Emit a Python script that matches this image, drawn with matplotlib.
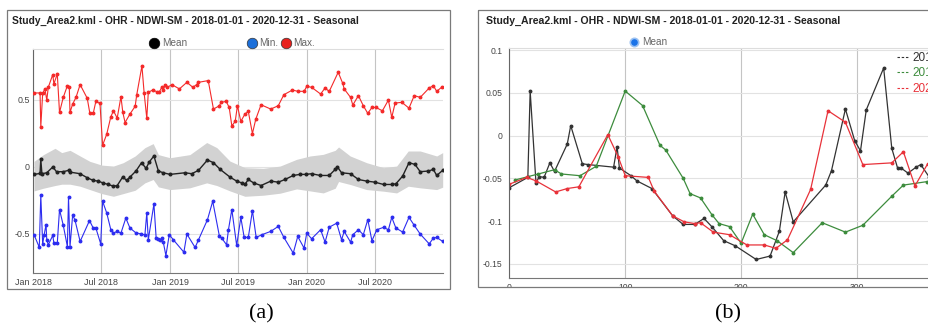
import numpy as np
import matplotlib
matplotlib.use('Agg')
import matplotlib.pyplot as plt
import matplotlib.dates as mdates
from matplotlib.patches import Rectangle
from matplotlib.lines import Line2D

plt.rcParams['font.family'] = ['Liberation Sans', 'DejaVu Sans']

title = 'Study_Area2.kml - OHR - NDWI-SM - 2018-01-01 - 2020-12-31 - Seasonal'

# ---- panel (a): days since 2018-01-01 ----
mean_days = [2, 18, 20, 23, 36, 52, 62, 80, 94, 98, 125, 144, 160, 174, 185, 200, 214, 224, 239, 249,
             258, 274, 289, 301, 310, 322, 334, 347, 365, 405, 423, 441, 465, 481, 499, 525, 543, 556, 565, 574,
             588, 608, 634, 654, 672, 694, 712, 728, 743, 766, 790, 806, 812, 823, 847, 868, 890, 912, 935, 957,
             968, 986, 1003, 1019, 1033, 1055, 1068, 1077, 1093]
mean_vals = [-0.057, -0.05, 0.055, -0.052, -0.045, -0.002, -0.037, -0.037, -0.027, -0.04,
             -0.052, -0.082, -0.102, -0.107, -0.12, -0.132, -0.145, -0.14, -0.075, -0.102,
             -0.077, -0.032, 0.03, -0.012, 0.037, 0.08, -0.032, -0.045, -0.057, -0.045,
             -0.052, -0.027, 0.05, 0.03, -0.02, -0.077, -0.107, -0.12, -0.132, -0.095,
             -0.12, -0.14, -0.107, -0.115, -0.095, -0.065, -0.057, -0.057, -0.052, -0.065,
             -0.065, -0.02, -0.002, -0.045, -0.052, -0.095, -0.107, -0.115, -0.132, -0.132,
             -0.127, -0.07, 0.03, 0.017, -0.037, -0.032, -0.02, -0.065, -0.027]

band_days = [2, 27, 58, 76, 98, 125, 151, 183, 214, 240, 272, 298, 320, 334, 365, 418, 463, 490, 525, 565,
             614, 659, 703, 739, 774, 806, 815, 846, 890, 935, 970, 1001, 1033, 1077, 1093]
band_hi = [0.04, 0.09, 0.137, 0.105, 0.122, 0.08, 0.04, 0.012, 0.005, 0.03,
           0.08, 0.142, 0.172, 0.09, 0.067, 0.09, 0.18, 0.142, 0.042, -0.007,
           -0.012, 0.005, 0.055, 0.08, 0.092, 0.122, 0.147, 0.08, 0.03, -0.007,
           0.005, 0.117, 0.117, 0.08, 0.105]
band_lo = [-0.18, -0.16, -0.14, -0.13, -0.13, -0.145, -0.17, -0.2, -0.22, -0.2,
           -0.175, -0.12, -0.095, -0.15, -0.17, -0.157, -0.12, -0.14, -0.18, -0.22,
           -0.212, -0.197, -0.165, -0.18, -0.195, -0.16, -0.11, -0.132, -0.17, -0.182,
           -0.195, -0.145, -0.157, -0.17, -0.152]

max_days = [2, 18, 20, 25, 31, 36, 40, 52, 55, 64, 70, 80, 91, 96, 98, 105, 114, 125, 144, 151,
            160, 167, 178, 185, 196, 207, 214, 224, 234, 239, 245, 258, 272, 276, 290, 296, 303, 307, 319, 329,
            336, 343, 347, 352, 358, 370, 390, 410, 426, 436, 441, 467, 481, 497, 501, 515, 523, 530, 539, 545,
            554, 565, 574, 585, 594, 608, 634, 654, 669, 692, 706, 723, 730, 743, 767, 779, 790, 814, 826, 830,
            847, 853, 868, 881, 893, 904, 915, 932, 948, 957, 966, 984, 1003, 1017, 1033, 1057, 1068, 1077, 1090]
max_vals = [0.549, 0.549, 0.297, 0.546, 0.579, 0.496, 0.591, 0.686, 0.616, 0.691,
            0.404, 0.516, 0.603, 0.596, 0.404, 0.466, 0.516, 0.611, 0.509, 0.397,
            0.397, 0.486, 0.471, 0.16, 0.242, 0.372, 0.416, 0.362, 0.521, 0.404,
            0.329, 0.392, 0.45, 0.533, 0.75, 0.546, 0.36, 0.554, 0.571, 0.559,
            0.554, 0.591, 0.571, 0.611, 0.591, 0.611, 0.579, 0.628, 0.591, 0.611,
            0.628, 0.641, 0.429, 0.454, 0.479, 0.486, 0.441, 0.304, 0.337, 0.454,
            0.337, 0.392, 0.411, 0.247, 0.354, 0.461, 0.429, 0.454, 0.536, 0.571,
            0.561, 0.561, 0.598, 0.591, 0.541, 0.586, 0.56, 0.703, 0.621, 0.579,
            0.516, 0.459, 0.529, 0.454, 0.397, 0.441, 0.441, 0.416, 0.496, 0.367,
            0.474, 0.479, 0.436, 0.529, 0.516, 0.586, 0.603, 0.561, 0.591]

min_days = [2, 16, 20, 25, 29, 34, 36, 40, 52, 55, 64, 70, 80, 91, 94, 98, 105, 111, 125, 150,
            160, 167, 180, 185, 196, 207, 214, 224, 234, 247, 258, 273, 288, 298, 303, 307, 322, 328, 334, 338,
            343, 347, 354, 363, 374, 402, 410, 432, 441, 465, 479, 497, 503, 516, 521, 530, 543, 554, 563, 574,
            585, 595, 610, 634, 654, 669, 694, 706, 723, 730, 743, 767, 779, 790, 810, 823, 830, 847, 853, 868,
            881, 893, 904, 917, 935, 948, 957, 968, 986, 1003, 1017, 1033, 1057, 1068, 1077, 1093]
min_vals = [-0.506, -0.60, -0.212, -0.576, -0.506, -0.431, -0.544, -0.581, -0.511, -0.569,
            -0.569, -0.319, -0.436, -0.594, -0.227, -0.594, -0.362, -0.394, -0.556, -0.401,
            -0.456, -0.456, -0.574, -0.257, -0.344, -0.469, -0.494, -0.481, -0.494, -0.382,
            -0.456, -0.49, -0.501, -0.506, -0.344, -0.544, -0.277, -0.531, -0.536, -0.544,
            -0.531, -0.561, -0.661, -0.506, -0.544, -0.636, -0.501, -0.601, -0.544, -0.394,
            -0.257, -0.519, -0.531, -0.581, -0.469, -0.319, -0.586, -0.377, -0.526, -0.526,
            -0.327, -0.526, -0.506, -0.481, -0.444, -0.526, -0.643, -0.519, -0.606, -0.494,
            -0.536, -0.469, -0.561, -0.45, -0.42, -0.544, -0.481, -0.561, -0.506, -0.469,
            -0.506, -0.394, -0.551, -0.469, -0.451, -0.469, -0.377, -0.456, -0.486, -0.377,
            -0.436, -0.501, -0.574, -0.531, -0.526, -0.556]

# ---- panel (b): day of year ----
doy_2018 = [0, 16, 18, 23, 26, 30, 35, 39, 50, 53, 63, 68, 90, 93, 95, 105, 110, 123, 141, 150,
            160, 168, 175, 185, 195, 213, 225, 233, 238, 245, 273, 278, 290, 298, 303, 308, 323, 330, 335, 338,
            344, 351, 355, 362]
val_2018 = [-0.061, -0.049, 0.052, -0.055, -0.048, -0.049, -0.032, -0.042, -0.01, 0.0115,
            -0.033, -0.034, -0.037, -0.013, -0.038, -0.047, -0.053, -0.062, -0.094, -0.104,
            -0.104, -0.097, -0.107, -0.123, -0.129, -0.145, -0.141, -0.112, -0.066, -0.101,
            -0.058, -0.041, 0.031, -0.006, -0.018, 0.030, 0.079, -0.015, -0.038, -0.038,
            -0.044, -0.037, -0.034, -0.048]
doy_2019 = [5, 25, 39, 45, 61, 75, 100, 115, 130, 135, 150, 156, 165, 175, 181, 190, 200, 210, 220, 231,
            245, 270, 290, 305, 330, 340, 360]
val_2019 = [-0.052, -0.045, -0.040, -0.045, -0.047, -0.036, 0.052, 0.035, -0.0115, -0.017,
            -0.05, -0.068, -0.073, -0.093, -0.103, -0.1065, -0.126, -0.092, -0.116, -0.123,
            -0.137, -0.102, -0.113, -0.105, -0.071, -0.058, -0.054]
doy_2020 = [0, 15, 23, 40, 50, 60, 85, 94, 100, 120, 125, 141, 151, 160, 165, 176, 190, 205, 220, 230,
            240, 260, 275, 290, 305, 330, 340, 350, 361]
val_2020 = [-0.057, -0.049, -0.053, -0.066, -0.062, -0.06, 0.001, -0.025, -0.047, -0.049,
            -0.065, -0.094, -0.101, -0.103, -0.102, -0.113, -0.116, -0.128, -0.128, -0.132,
            -0.122, -0.063, 0.029, 0.0155, -0.034, -0.032, -0.019, -0.059, -0.033]

W, H = 929, 327
fig = plt.figure(figsize=(W / 100, H / 100), dpi=100)


def to_dates(days):
    return np.datetime64('2018-01-01') + np.array(days, dtype='timedelta64[D]')


# panel (a)
ax1 = fig.add_axes([33.3 / W, 1 - 273.3 / H, 409.4 / W, 224.3 / H])
ax1.fill_between(to_dates(band_days), band_lo, band_hi, color='#d2d2d2', lw=0, zorder=1)
ax1.plot(to_dates(max_days), max_vals, '-o', color='#f42a2a', lw=0.8, ms=1.8, zorder=3)
ax1.plot(to_dates(mean_days), mean_vals, '-o', color='#222222', lw=1.0, ms=1.9, zorder=3)
ax1.plot(to_dates(min_days), min_vals, '-o', color='#2d2df0', lw=0.8, ms=1.8, zorder=3)
ax1.set_xlim(to_dates([0])[0], to_dates([1093])[0])
ax1.set_ylim(-0.793, 0.876)
ax1.set_yticks([-0.5, 0, 0.5])
ax1.set_yticklabels(['-0.5', '0', '0.5'])
ax1.xaxis.set_major_locator(mdates.MonthLocator(bymonth=[1, 7]))
ax1.xaxis.set_major_formatter(mdates.DateFormatter('%b %Y'))
ax1.tick_params(length=0, labelsize=6.4, colors='#444444')
ax1.tick_params(axis='y', pad=2.5)
ax1.tick_params(axis='x', pad=3.5)
ax1.grid(axis='y', color='#e2e2e2', lw=0.8)
ax1.grid(axis='x', color='#c4c4c4', lw=0.8)
ax1.set_axisbelow(True)
ax1.spines['right'].set_visible(False)
ax1.spines['top'].set_color('#dddddd')
ax1.spines['left'].set_color('#666666')
ax1.spines['bottom'].set_color('#777777')

# panel (b)
ax2 = fig.add_axes([509.3 / W, 1 - 278.3 / H, 424.2 / W, 230 / H])
ax2.plot(doy_2018, val_2018, '-o', color='#333333', lw=0.9, ms=1.8)
ax2.plot(doy_2019, val_2019, '-o', color='#3d8c3d', lw=0.9, ms=1.8)
ax2.plot(doy_2020, val_2020, '-o', color='#e8323a', lw=0.9, ms=1.8)
ax2.set_xlim(0, 366)
ax2.set_ylim(-0.167, 0.102)
ax2.set_yticks([-0.15, -0.1, -0.05, 0, 0.05, 0.1])
ax2.set_yticklabels(['-0.15', '-0.1', '-0.05', '0', '0.05', '0.1'])
ax2.set_xticks([0, 100, 200, 300])
ax2.tick_params(length=0, labelsize=6.2, colors='#444444')
ax2.tick_params(axis='y', pad=5)
ax2.tick_params(axis='x', pad=3.6)
ax2.grid(axis='y', color='#e2e2e2', lw=0.8)
ax2.grid(axis='x', color='#c4c4c4', lw=0.8)
ax2.set_axisbelow(True)
ax2.spines['right'].set_visible(False)
ax2.spines['top'].set_color('#dddddd')
ax2.spines['left'].set_color('#666666')
ax2.spines['bottom'].set_color('#777777')
handles = [Line2D([], [], color=c, ls=(0, (2.2, 1.6)), lw=0.8) for c in ['#333333', '#3d8c3d', '#e8323a']]
ax2.legend(handles, ['2018', '2019', '2020'], loc='upper left', bbox_to_anchor=(0.914, 0.985),
           frameon=False, fontsize=8.5, handlelength=1.0, handletextpad=0.3, labelspacing=0.3,
           borderpad=0, borderaxespad=0, labelcolor='linecolor')

# frames, headers and captions on a pixel overlay
ov = fig.add_axes([0, 0, 1, 1], zorder=10)
ov.set_xlim(0, W)
ov.set_ylim(H, 0)
ov.axis('off')
ov.add_patch(Rectangle((478.8, 287.8), 460, 9, color='white', lw=0))
ov.add_patch(Rectangle((6.7, 10), 443.3, 279.3, fill=False, ec='#7a7a7a', lw=0.9))
ov.add_patch(Rectangle((478.3, 10), 470, 277.3, fill=False, ec='#7a7a7a', lw=0.9))
ov.text(12, 20.5, title, fontsize=7.4, fontweight='bold', va='center', ha='left', color='#222222')
ov.text(486, 20.5, title, fontsize=7.6, fontweight='bold', va='center', ha='left', color='#222222')

for cx, tx, col, lab in [(153.7, 162, 'black', 'Mean'), (251.7, 258.7, '#1c6fd9', 'Min.'),
                         (286.5, 293, '#e8201c', 'Max.')]:
    ov.plot([cx], [43], 'o', ms=7.6, color=col, mec='#333333' if col != 'black' else 'black', mew=0.5)
    ov.text(tx, 43.5, lab, fontsize=7.2, color='#666666', va='center', ha='left')

ov.plot([634], [41.7], 'o', ms=6, mfc='#1a73e8', mec='#9cc2f2', mew=1.2)
ov.text(641.7, 42.2, 'Mean', fontsize=7.2, color='#666666', va='center', ha='left')

ov.text(261.7, 314, '(a)', fontsize=16, family='Liberation Serif', ha='center', va='center')
ov.text(728.3, 314, '(b)', fontsize=16, family='Liberation Serif', ha='center', va='center')

fig.savefig('out.png', dpi=100)
